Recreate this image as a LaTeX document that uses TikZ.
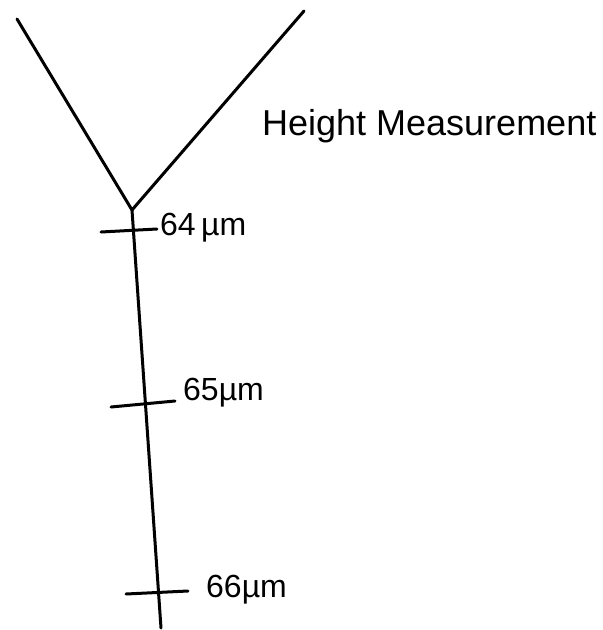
\documentclass[tikz,border=0pt]{standalone}
\usepackage{fontspec}
\setmainfont{Liberation Sans}
\begin{document}
\begin{tikzpicture}[x=1pt,y=-1pt,
  stroke/.style={line width=3pt,line cap=round,line join=round},
  lbl/.style={anchor=west,inner sep=0pt,font=\fontsize{32}{34}\selectfont}]
\useasboundingbox (0,0) rectangle (603,630);
\coordinate (lt) at (17,19);
\coordinate (rt) at (304,11);
\coordinate (v) at (132,210);
\coordinate (bot) at (161,628);
\coordinate (t1a) at (101,232);
\coordinate (t1b) at (157,229);
\coordinate (t2a) at (111,407);
\coordinate (t2b) at (175,401);
\coordinate (t3a) at (126,594);
\coordinate (t3b) at (188,591);
\draw[stroke] (lt) -- (v) -- (rt);
\draw[stroke] (v) -- (bot);
\draw[stroke] (t1a) -- (t1b);
\draw[stroke] (t2a) -- (t2b);
\draw[stroke] (t3a) -- (t3b);
\node[lbl,font=\fontsize{36}{38}\selectfont] (title) at (262,126) {Height Measurement};
\node[lbl] (m64) at (160,228) {64\,µm};
\node[lbl] (m65) at (183,393) {65µm};
\node[lbl] (m66) at (206,590) {66µm};
\end{tikzpicture}
\end{document}
